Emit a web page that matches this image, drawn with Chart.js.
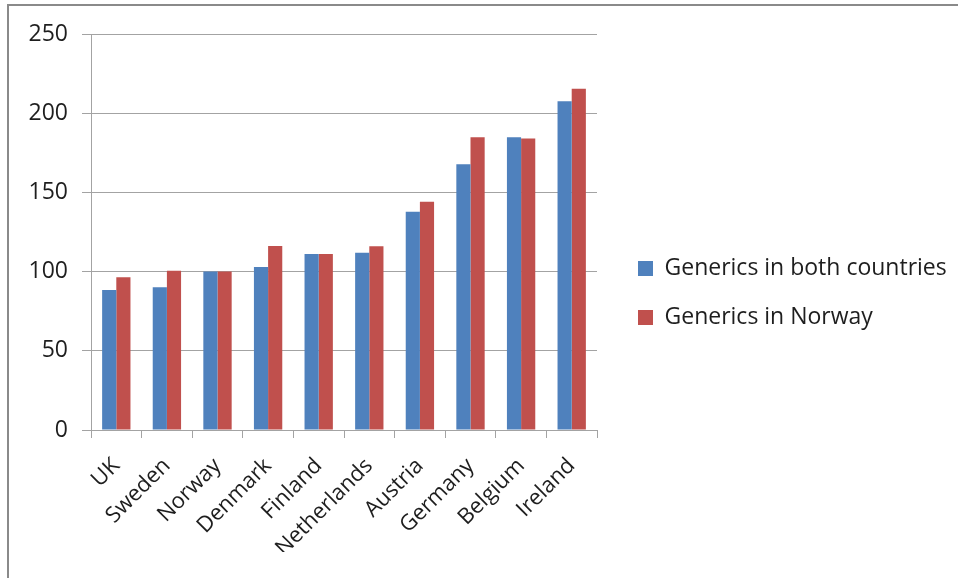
<!DOCTYPE html>
<html>
<head>
<meta charset="utf-8">
<script src="https://cdn.jsdelivr.net/npm/chart.js@4.4.1/dist/chart.umd.min.js"></script>
<style>
  html, body { margin: 0; padding: 0; background: #fff; }
  #wrap { position: relative; width: 958px; height: 578px; overflow: hidden; }
  #frame {
    position: absolute; left: 7px; top: 4px; right: -4px; bottom: -4px;
    border-top: 2px solid #8a8a8a; border-left: 2px solid #8a8a8a;
    pointer-events: none;
  }
  canvas { position: absolute; left: 0; top: 0; }
</style>
</head>
<body>
<div id="wrap">
  <canvas id="chart" width="958" height="578"></canvas>
  <div id="frame"></div>
</div>
<script>
// Price index by country (Norway = 100)
const countries = ['UK', 'Sweden', 'Norway', 'Denmark', 'Finland', 'Netherlands', 'Austria', 'Germany', 'Belgium', 'Ireland'];
const genericsBoth = [88.4, 90.1, 100, 102.9, 111.1, 111.9, 137.8, 167.7, 184.8, 207.5];
const genericsNorway = [96.4, 100.6, 100, 116.2, 111.1, 116.0, 144.1, 184.8, 184.0, 215.5];
const seriesNames = ['Generics in both countries', 'Generics in Norway'];
const yTicks = [0, 50, 100, 150, 200, 250];

const FONT = 'Open Sans';
const TEXT = '#1e1e1e';
const GRID = '#a3a3a3';
const LEGEND_WIDTH = 346;

// The default layout caps side boxes at a fraction of the canvas width;
// give the legend a fixed, wider column instead.
const wideLegend = {
  id: 'wideLegend',
  afterInit(chart) {
    const legend = chart.legend;
    if (!legend) return;
    const fit = legend.fit.bind(legend);
    legend.fit = function () {
      fit();
      this.width = LEGEND_WIDTH;
    };
  }
};

new Chart(document.getElementById('chart'), {
  type: 'bar',
  data: {
    labels: countries,
    datasets: [
      { label: seriesNames[0], data: genericsBoth, backgroundColor: '#4F81BD' },
      { label: seriesNames[1], data: genericsNorway, backgroundColor: '#C0504D' }
    ]
  },
  plugins: [wideLegend],
  options: {
    responsive: false,
    animation: false,
    events: [],
    datasets: { bar: { categoryPercentage: 0.56, barPercentage: 1.0, borderWidth: 0 } },
    layout: { padding: { top: 34, bottom: 26, left: 0, right: 0 } },
    plugins: {
      tooltip: { enabled: false },
      legend: {
        position: 'right',
        labels: {
          boxWidth: 15, boxHeight: 15, padding: 26,
          color: TEXT,
          font: { family: FONT, size: 23 }
        }
      }
    },
    scales: {
      x: {
        grid: { offset: true, drawOnChartArea: false, tickLength: 8, color: GRID, lineWidth: 1 },
        border: { display: true, color: GRID, width: 1 },
        ticks: {
          minRotation: 45, maxRotation: 45, autoSkip: false, padding: 15,
          color: TEXT, font: { family: FONT, size: 22 }
        },
        afterFit(scale) { scale.height = 122; }
      },
      y: {
        min: 0, max: 250,
        afterBuildTicks(scale) { scale.ticks = yTicks.map(v => ({ value: v })); },
        grid: { color: GRID, lineWidth: 1, tickLength: 9 },
        border: { display: true, color: GRID, width: 1 },
        ticks: { padding: 14, color: TEXT, font: { family: FONT, size: 23 } },
        afterFit(scale) { scale.width = 91; }
      },
      gap: {
        position: 'right',
        display: true,
        grid: { display: false },
        border: { display: false },
        ticks: { display: false },
        afterFit(scale) { scale.width = 15; }
      }
    }
  }
});
</script>
</body>
</html>
